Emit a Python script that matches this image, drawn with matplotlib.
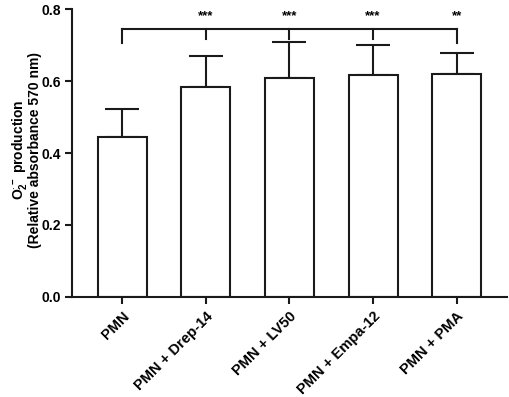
import matplotlib
matplotlib.use("Agg")
import matplotlib.pyplot as plt
import numpy as np

categories = ["PMN", "PMN + Drep-14", "PMN + LV50", "PMN + Empa-12", "PMN + PMA"]
means = [0.445, 0.584, 0.609, 0.617, 0.619]
errors = [0.078, 0.085, 0.100, 0.083, 0.060]
stars = ["", "***", "***", "***", "**"]

plt.rcParams['font.family'] = ['Liberation Sans', 'DejaVu Sans']
plt.rcParams['font.weight'] = 'bold'
plt.rcParams['mathtext.fontset'] = 'custom'
plt.rcParams['mathtext.rm'] = 'Liberation Sans:bold'
plt.rcParams['mathtext.it'] = 'Liberation Sans:bold'
plt.rcParams['mathtext.bf'] = 'Liberation Sans:bold'

fig = plt.figure(figsize=(5.10, 3.97), dpi=100)
ax = fig.add_axes([0.141, 0.252, 0.853, 0.725])

x = np.arange(len(categories))
lw = 1.5
ax.bar(x, means, width=0.585, color='white', edgecolor='#1a1a1a', linewidth=lw, zorder=2)
ax.errorbar(x, means, yerr=[np.zeros(len(x)), errors], fmt='none', ecolor='#1a1a1a',
            elinewidth=lw, capsize=12, capthick=lw, zorder=1)

ax.set_xlim(-0.6, 4.6)
ax.set_ylim(0, 0.8)
ax.set_yticks([0.0, 0.2, 0.4, 0.6, 0.8])
ax.set_yticklabels(["0.0", "0.2", "0.4", "0.6", "0.8"], fontsize=10, fontweight='bold')
ax.set_xticks(x)
ax.set_xticklabels(categories, rotation=45, ha='right', rotation_mode='anchor',
                   fontsize=10.5, fontweight='bold')
for s in ['top', 'right']:
    ax.spines[s].set_visible(False)
for s in ['left', 'bottom']:
    ax.spines[s].set_linewidth(lw)
    ax.spines[s].set_color('#1a1a1a')
ax.tick_params(axis='both', direction='out', length=5, width=lw, color='#1a1a1a')
ax.tick_params(axis='y', pad=3)
ax.tick_params(axis='x', pad=4)

ylab_y = 1 - 150 / 397
fig.text(20 / 510, ylab_y, "O$_2^{\\cdot-}$ production", rotation=90, ha='center', va='center',
         fontsize=10, fontweight='bold')
fig.text(35 / 510, ylab_y, "(Relative absorbance 570 nm)", rotation=90, ha='center', va='center',
         fontsize=10, fontweight='bold')

# significance bracket
yb = 0.745
ax.plot([x[0], x[-1]], [yb, yb], color='#1a1a1a', lw=lw, clip_on=False)
ax.plot([x[0], x[0]], [yb, 0.705], color='#1a1a1a', lw=lw, clip_on=False)
for i in range(1, len(x)):
    bottom = 0.705 if i == len(x) - 1 else 0.718
    ax.plot([x[i], x[i]], [yb, bottom], color='#1a1a1a', lw=lw, clip_on=False)
    ax.text(x[i], 0.765, stars[i], ha='center', va='bottom', fontsize=9.5, fontweight='bold')

fig.savefig("out.png", dpi=100)
